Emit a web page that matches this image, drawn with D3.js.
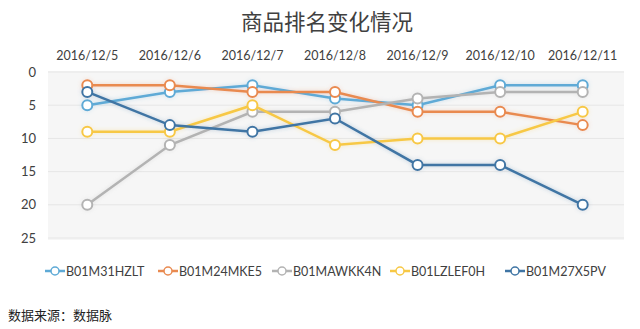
<!DOCTYPE html>
<html><head><meta charset="utf-8">
<script src="https://cdn.jsdelivr.net/npm/d3@7"></script>
<style>
html,body{margin:0;padding:0;background:#fff;}
svg{display:block;font-family:Lato,"Noto Sans CJK SC",sans-serif;}
</style></head>
<body><svg id="c" width="640" height="329"></svg>
<script>
const dates = ["2016/12/5","2016/12/6","2016/12/7","2016/12/8","2016/12/9","2016/12/10","2016/12/11"];
const seriesNames = ["B01M31HZLT","B01M24MKE5","B01MAWKK4N","B01LZLEF0H","B01M27X5PV"];
const s1 = [5,3,2,4,5,2,2];
const s2 = [2,2,3,3,6,6,8];
const s3 = [20,11,6,6,4,3,3];
const s4 = [9,9,5,11,10,10,6];
const s5 = [3,8,9,7,14,14,20];
const yTicks = [0,5,10,15,20,25];
const colors = ["#5eaad6","#e98a50","#b3b3b3","#f7c845","#3f75a4"];
const titleText = "商品排名变化情况";
const sourceText = "数据来源：数据脉";

const values = [s1,s2,s3,s4,s5];
const svg = d3.select("#c");
const defs = svg.append("defs");
const f = defs.append("filter").attr("id","glow").attr("x","-20%").attr("y","-20%").attr("width","140%").attr("height","140%");
f.append("feGaussianBlur").attr("in","SourceGraphic").attr("stdDeviation",2.2).attr("result","b");
f.append("feComponentTransfer").attr("in","b").attr("result","b2").append("feFuncA").attr("type","linear").attr("slope",0.35);
const m = f.append("feMerge"); m.append("feMergeNode").attr("in","b2"); m.append("feMergeNode").attr("in","SourceGraphic");

const L=46, R=624, T=72, B=238;
const x = d3.scaleBand().domain(dates).range([L,R]);
const y = d3.scaleLinear().domain([0,25]).range([T,B]);

svg.append("rect").attr("x",L+2).attr("y",T-1).attr("width",R-L-2).attr("height",B-T+3).attr("fill","#f6f6f6");

svg.append("g").selectAll("line").data(yTicks).join("line")
  .attr("x1",L+2).attr("x2",R).attr("y1",d=>y(d)).attr("y2",d=>y(d))
  .attr("stroke","#e6e6e6").attr("stroke-width",1);

svg.append("text").attr("x",327).attr("y",30).attr("text-anchor","middle")
  .attr("font-size",21.5).attr("fill","#404040").attr("font-family","'Noto Sans CJK SC',sans-serif").text(titleText);

const xa = svg.append("g").attr("transform",`translate(0,${T})`).call(d3.axisTop(x).tickSize(0).tickPadding(12));
xa.select(".domain").remove();
xa.selectAll("text").attr("font-size",12.5).attr("fill","#404040").attr("font-family","Lato,sans-serif");

const ya = svg.append("g").attr("transform",`translate(${L-4},0)`).call(d3.axisLeft(y).tickValues(yTicks).tickSize(0).tickPadding(6));
ya.select(".domain").remove();
ya.selectAll("text").attr("font-size",13).attr("fill","#404040").attr("font-family","Lato,sans-serif");

const line = d3.line().x((d,i)=>x(dates[i])+x.bandwidth()/2).y(d=>y(d));
const g = svg.append("g").attr("filter","url(#glow)");
values.forEach((vals,k)=>{
  g.append("path").datum(vals).attr("d",line).attr("fill","none").attr("stroke",colors[k]).attr("stroke-width",2.5);
});
values.forEach((vals,k)=>{
  g.append("g").selectAll("circle").data(vals).join("circle")
   .attr("cx",(d,i)=>x(dates[i])+x.bandwidth()/2).attr("cy",d=>y(d)).attr("r",5)
   .attr("fill","#fff").attr("stroke",colors[k]).attr("stroke-width",2);
});

// legend
const legX = [45,158,272,390,505];
const lg = svg.append("g");
seriesNames.forEach((n,k)=>{
  const gx = legX[k], gy = 271;
  lg.append("line").attr("x1",gx).attr("x2",gx+20).attr("y1",gy).attr("y2",gy).attr("stroke",colors[k]).attr("stroke-width",2.5);
  lg.append("circle").attr("cx",gx+10).attr("cy",gy).attr("r",4).attr("fill","#fff").attr("stroke",colors[k]).attr("stroke-width",1.5);
  lg.append("text").attr("x",gx+21).attr("y",gy+4.5).attr("font-size",12.5).attr("fill","#404040").attr("font-family","Lato,sans-serif").text(n);
});

svg.append("text").attr("x",8).attr("y",320).attr("font-size",13).attr("fill","#222")
  .attr("font-family","'Noto Sans CJK SC',sans-serif").text(sourceText);
</script></body></html>
